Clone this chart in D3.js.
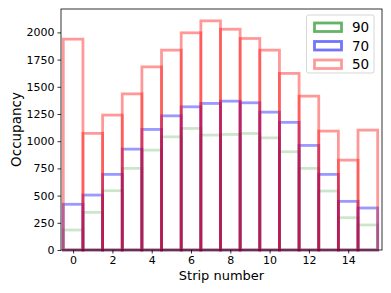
<!DOCTYPE html>
<html>
<head>
<meta charset="utf-8">
<script src="https://d3js.org/d3.v7.min.js"></script>
<style>
  body { margin: 0; background: #fff; }
  text { font-family: "DejaVu Sans", sans-serif; fill: #000; }
</style>
</head>
<body>
<svg id="chart"></svg>
<script>
// strip occupancy for three thresholds
var strips = d3.range(0, 16);
var occ90 = [184, 346, 545, 750, 918, 1040, 1117, 1056, 1062, 1071, 1031, 903, 750, 542, 297, 230];
var occ70 = [420, 505, 695, 927, 1108, 1233, 1316, 1347, 1368, 1353, 1267, 1173, 961, 695, 447, 386];
var occ50 = [1938, 1072, 1240, 1435, 1683, 1837, 1996, 2106, 2029, 1944, 1837, 1623, 1414, 1093, 826, 1102];
var seriesNames = ["90", "70", "50"];
var xTicks = [0, 2, 4, 6, 8, 10, 12, 14];
var yTicks = [0, 250, 500, 750, 1000, 1250, 1500, 1750, 2000];

var width = 391, height = 293;
var svg = d3.select("#chart").attr("width", width).attr("height", height);

var x = d3.scaleLinear().domain([-0.617, 15.72]).range([61, 382]);
var y = d3.scaleLinear().domain([0, 2215]).range([250, 9]);

var series = [
  {name: seriesNames[0], values: occ90, color: "rgba(0,128,0,0.2)", legend: "rgba(0,128,0,0.6)"},
  {name: seriesNames[1], values: occ70, color: "rgba(0,0,255,0.4)", legend: "rgba(0,0,255,0.55)"},
  {name: seriesNames[2], values: occ50, color: "rgba(255,0,0,0.4)", legend: "rgba(255,0,0,0.4)"}
];

// unfilled bars, one rectangle per strip
series.forEach(function(s) {
  svg.append("g").selectAll("rect")
    .data(strips)
    .enter()
    .append("rect")
    .attr("x", function(d) { return x(d - 0.5); })
    .attr("y", function(d) { return y(s.values[d]); })
    .attr("width", function(d) { return x(d + 0.5) - x(d - 0.5); })
    .attr("height", function(d) { return y(0) - y(s.values[d]); })
    .attr("fill", "none")
    .attr("stroke", s.color)
    .attr("stroke-width", 2.8);
});

// axes
var xAxis = d3.axisBottom(x).tickValues(xTicks).tickSize(3.5).tickPadding(2.5);
var yAxis = d3.axisLeft(y).tickValues(yTicks).tickSize(3.5).tickPadding(3).tickFormat(d3.format("d"));

var gx = svg.append("g").attr("transform", "translate(0,250)").call(xAxis);
var gy = svg.append("g").attr("transform", "translate(61,0)").call(yAxis);
[gx, gy].forEach(function(g) {
  g.select(".domain").remove();
  g.selectAll("line").attr("stroke", "#000").attr("stroke-width", 0.8);
  g.selectAll("text").style("font-size", "11px").style("font-family", "DejaVu Sans");
});

// frame
svg.append("rect")
  .attr("x", 61).attr("y", 9)
  .attr("width", 382 - 61).attr("height", 250 - 9)
  .attr("fill", "none")
  .attr("stroke", "#000")
  .attr("stroke-width", 0.8);

svg.append("text")
  .attr("x", 221.5).attr("y", 280)
  .attr("text-anchor", "middle")
  .style("font-size", "13px")
  .text("Strip number");

svg.append("text")
  .attr("transform", "translate(21,129.5) rotate(-90)")
  .attr("text-anchor", "middle")
  .style("font-size", "13.5px")
  .text("Occupancy");

// legend
var leg = svg.append("g");
leg.append("rect")
  .attr("x", 306.5).attr("y", 15)
  .attr("width", 67.5).attr("height", 58)
  .attr("rx", 2)
  .attr("fill", "rgba(255,255,255,0.8)")
  .attr("stroke", "#ccc")
  .attr("stroke-width", 0.8);

series.forEach(function(s, i) {
  var cy = 27 + i * 18.5;
  leg.append("rect")
    .attr("x", 314.5).attr("y", cy - 4)
    .attr("width", 27).attr("height", 8.5)
    .attr("fill", "none")
    .attr("stroke", s.legend)
    .attr("stroke-width", 2.8);
  leg.append("text")
    .attr("x", 352).attr("y", cy + 5)
    .style("font-size", "13.5px")
    .text(s.name);
});
</script>
</body>
</html>
